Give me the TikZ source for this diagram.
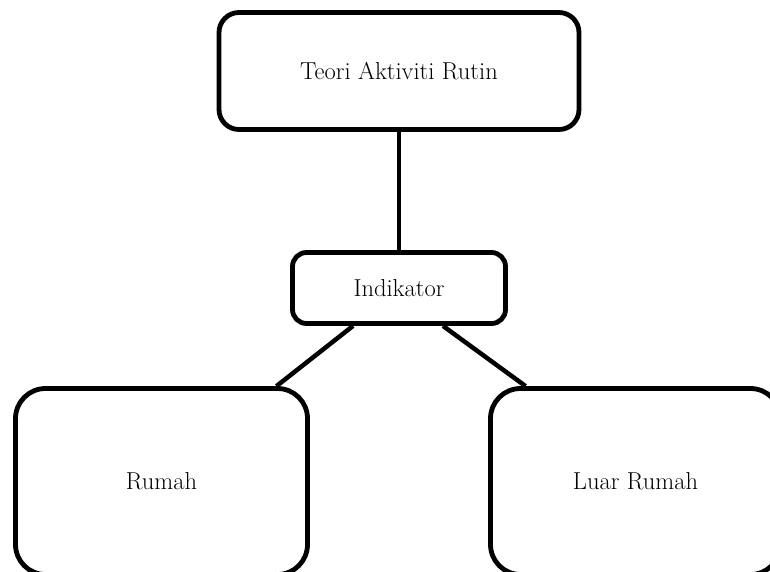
\documentclass[tikz,border=0pt]{standalone}
\usetikzlibrary{positioning}

\begin{document}
\begin{tikzpicture}[x=1pt,y=-1pt,
	kotak/.style={draw,line width=4.8pt,rounded corners=#1,inner sep=0pt,
		font=\fontsize{24.5}{29}\selectfont},
	kotak/.default=20pt,
	garis/.style={line width=4.5pt}]
	\useasboundingbox (0,0) rectangle (770,571);
	\clip (0,0) rectangle (770,571);
	\node[kotak,minimum width=360pt,minimum height=117pt] (teori) at (399,71){Teori Aktiviti Rutin};
	\node[kotak=14pt,minimum width=213pt,minimum height=71pt] (ind) at (399,288){Indikator};
	\node[kotak=30pt,minimum width=292pt,minimum height=186pt] (rumah) at (161.5,481.5){Rumah};
	\node[kotak=30pt,minimum width=290pt,minimum height=186pt] (luar) at (635.5,481.5){Luar Rumah};
	% connectors
	\draw[garis] (teori.south) -- (ind.north);
	\draw[garis] ([xshift=-46pt]ind.south) -- ([xshift=115pt]rumah.north);
	\draw[garis] ([xshift=44pt]ind.south) -- ([xshift=-110pt]luar.north);
\end{tikzpicture}
\end{document}
